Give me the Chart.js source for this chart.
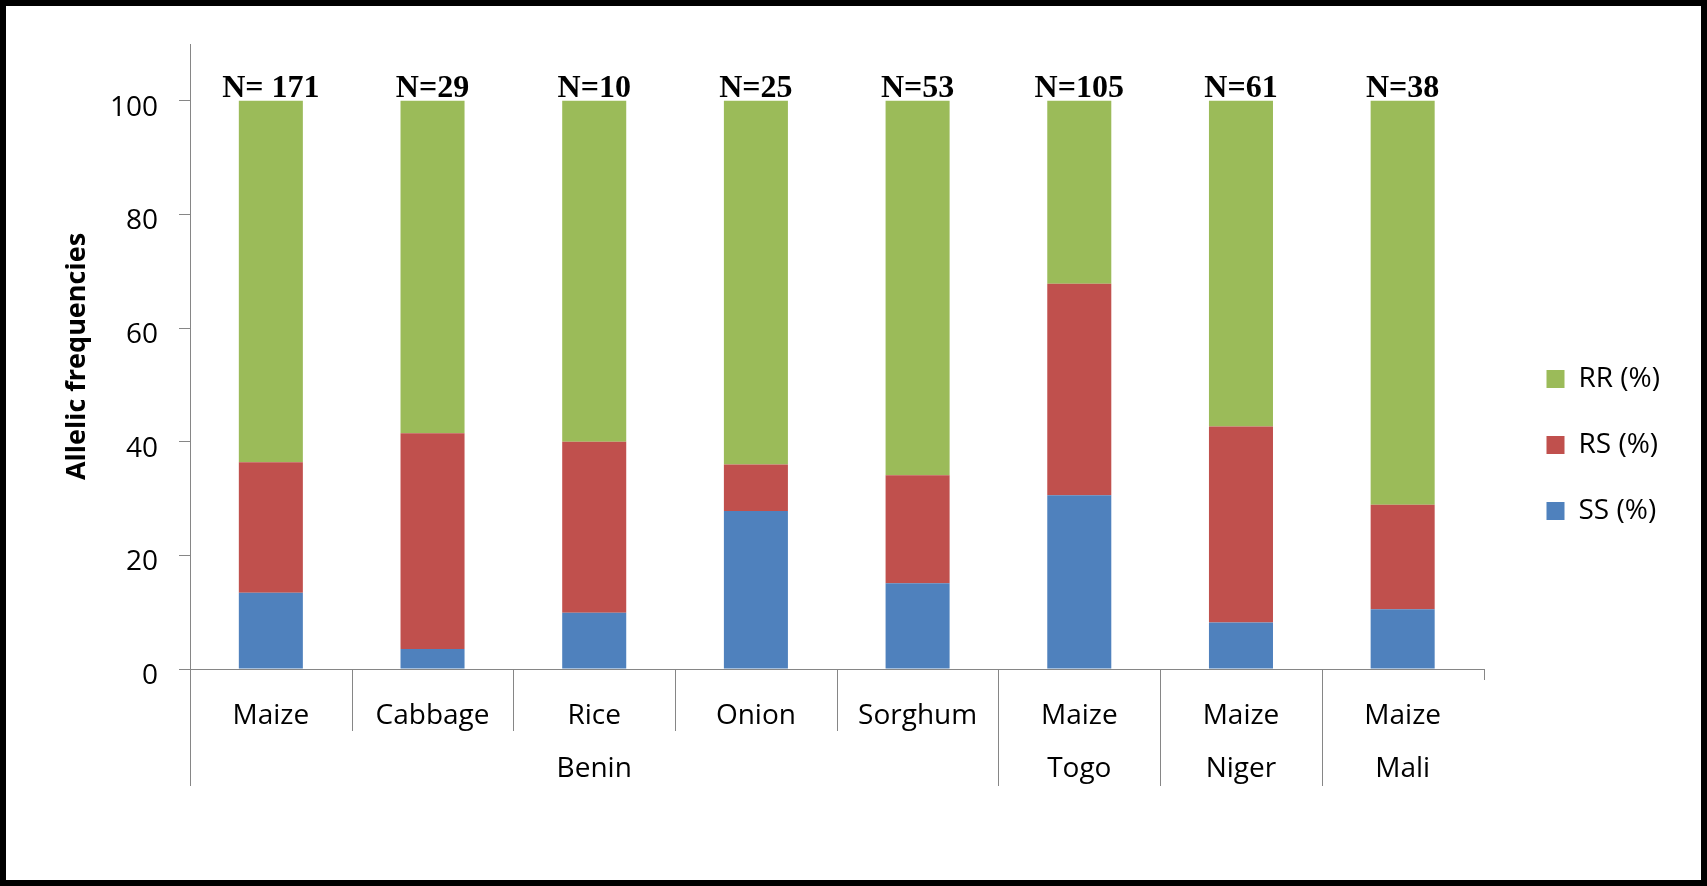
<!DOCTYPE html>
<html>
<head>
<meta charset="utf-8">
<script src="https://cdn.jsdelivr.net/npm/chart.js@4.4.1/dist/chart.umd.min.js"></script>
<style>
    html, body { margin: 0; padding: 0; background: #fff; overflow: hidden; }
    #frame {
        position: absolute; left: 0; top: 0;
        width: 1707px; height: 886px;
        box-sizing: border-box;
        border: 6px solid #000;
        background: #fff;
    }
    #freqChart { display: block; }
</style>
</head>
<body>
<div id="frame">
    <canvas id="freqChart" width="1695" height="874"></canvas>
</div>
<script>
// Allelic frequencies per crop / country (stacked to 100 %)

const categories = ['Maize', 'Cabbage', 'Rice', 'Onion', 'Sorghum', 'Maize', 'Maize', 'Maize'];
const countries = ['Benin', 'Benin', 'Benin', 'Benin', 'Benin', 'Togo', 'Niger', 'Mali'];
const sampleSizes = ['N= 171', 'N=29', 'N=10', 'N=25', 'N=53', 'N=105', 'N=61', 'N=38'];

const ssValues = [13.4, 3.5, 9.9, 27.8, 15.1, 30.6, 8.2, 10.5];
const rsValues = [23.0, 38.0, 30.1, 8.2, 19.0, 37.2, 34.5, 18.4];
const rrValues = [63.6, 58.5, 60.0, 64.0, 65.9, 32.2, 57.3, 71.1];

const yTicks = [0, 20, 40, 60, 80, 100];

const AXIS_GREY = '#868686';
const BODY_FONT = 'Open Sans, sans-serif';

// Two-level category axis: separators + country names under the crop names
const groupAxisPlugin = {
    id: 'groupAxis',
    afterDraw(chart) {
        const ctx = chart.ctx;
        const x = chart.scales.x;
        const area = chart.chartArea;
        const base = area.bottom;
        const shortLen = 62;
        const longLen = 117;

        ctx.save();
        ctx.strokeStyle = AXIS_GREY;
        ctx.lineWidth = 1;

        const line = (px, len) => {
            const xx = Math.round(px) + 0.5;
            ctx.beginPath();
            ctx.moveTo(xx, base);
            ctx.lineTo(xx, base + len);
            ctx.stroke();
        };

        line(area.left, longLen);
        for (let i = 1; i < categories.length; i++) {
            const px = (x.getPixelForValue(i - 1) + x.getPixelForValue(i)) / 2;
            line(px, countries[i] !== countries[i - 1] ? longLen : shortLen);
        }
        line(area.right, 11);

        // country labels centred under their run of categories
        ctx.fillStyle = '#000';
        ctx.font = '28px ' + BODY_FONT;
        ctx.textAlign = 'center';
        ctx.textBaseline = 'alphabetic';
        let start = 0;
        for (let i = 1; i <= countries.length; i++) {
            if (i === countries.length || countries[i] !== countries[start]) {
                const cx = (x.getPixelForValue(start) + x.getPixelForValue(i - 1)) / 2;
                ctx.fillText(countries[start], cx, base + 108);
                start = i;
            }
        }
        ctx.restore();
    }
};

// Sample size above each stacked bar
const sampleSizePlugin = {
    id: 'sampleSize',
    afterDatasetsDraw(chart) {
        const ctx = chart.ctx;
        const meta = chart.getDatasetMeta(chart.data.datasets.length - 1);
        ctx.save();
        ctx.fillStyle = '#000';
        ctx.font = 'bold 32px "Liberation Serif", "Times New Roman", serif';
        ctx.textAlign = 'center';
        ctx.textBaseline = 'alphabetic';
        meta.data.forEach((bar, i) => {
            ctx.fillText(sampleSizes[i], bar.x, bar.y - 4);
        });
        ctx.restore();
    }
};

const config = {
    type: 'bar',
    data: {
        labels: categories,
        datasets: [
            { label: 'SS (%)', data: ssValues, backgroundColor: '#4F81BD' },
            { label: 'RS (%)', data: rsValues, backgroundColor: '#C0504D' },
            { label: 'RR (%)', data: rrValues, backgroundColor: '#9BBB59' }
        ]
    },
    options: {
        responsive: false,
        animation: false,
        devicePixelRatio: 1,
        layout: {
            padding: { top: 38, left: 55, right: 31, bottom: 34 }
        },
        datasets: {
            bar: {
                categoryPercentage: 1.0,
                barPercentage: 0.396,
                borderWidth: 0
            }
        },
        plugins: {
            legend: {
                position: 'right',
                reverse: true,
                labels: {
                    boxWidth: 18,
                    boxHeight: 18,
                    padding: 38,
                    color: '#000',
                    font: { family: BODY_FONT, size: 28 }
                }
            },
            tooltip: { enabled: false }
        },
        scales: {
            x: {
                stacked: true,
                grid: { display: false, drawTicks: false },
                border: { display: true, color: AXIS_GREY, width: 1 },
                ticks: {
                    color: '#000',
                    padding: 30,
                    font: { family: BODY_FONT, size: 28 }
                },
                afterFit(scale) {
                    scale.height = 177;
                }
            },
            y: {
                stacked: true,
                min: 0,
                max: 110,
                afterBuildTicks(scale) {
                    scale.ticks = yTicks.map(v => ({ value: v }));
                },
                grid: {
                    drawOnChartArea: false,
                    drawTicks: true,
                    tickLength: 11,
                    color: AXIS_GREY
                },
                border: { display: true, color: AXIS_GREY, width: 1 },
                ticks: {
                    color: '#000',
                    padding: 21,
                    labelOffset: 7,
                    font: { family: BODY_FONT, size: 28 }
                },
                title: {
                    display: true,
                    text: 'Allelic frequencies',
                    color: '#000',
                    padding: 0,
                    font: { family: BODY_FONT, size: 27, weight: 'bold' }
                },
                afterFit(scale) {
                    scale.width = 129;
                }
            },
            // empty spacer between the plot and the legend
            gap: {
                type: 'linear',
                position: 'right',
                grid: { display: false },
                border: { display: false },
                ticks: { display: false },
                afterFit(scale) {
                    scale.width = 25;
                }
            }
        }
    },
    plugins: [sampleSizePlugin, groupAxisPlugin]
};

new Chart(document.getElementById('freqChart'), config);
</script>
</body>
</html>
